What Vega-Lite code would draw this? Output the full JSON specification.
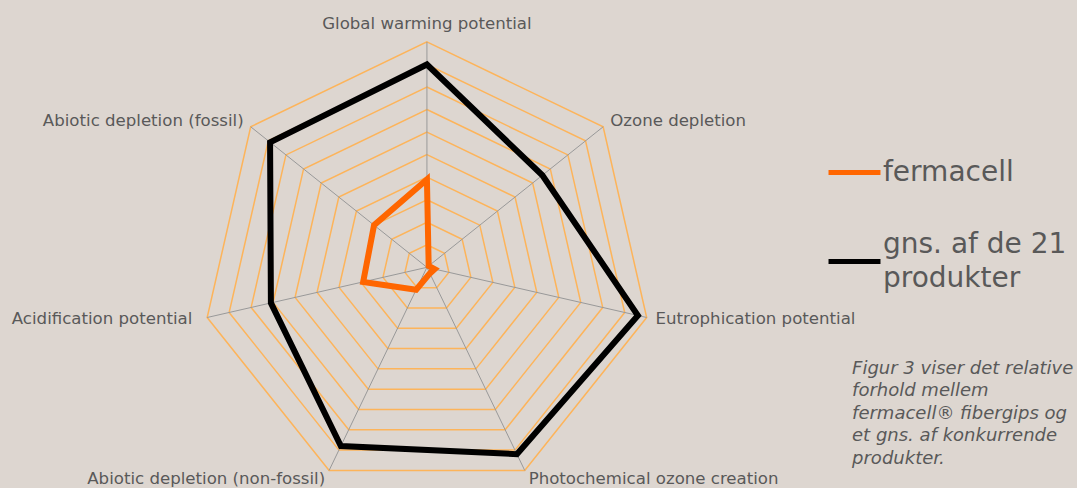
{
  "$schema": "https://vega.github.io/schema/vega-lite/v6.json",
  "width": 1077,
  "height": 488,
  "autosize": {"type": "none"},
  "padding": 0,
  "background": "#ddd6d0",
  "config": {
    "view": {"stroke": null},
    "font": "DejaVu Sans",
    "style": {"guide-label": {"lineHeight": 34}}
  },
  "resolve": {"scale": {"color": "independent"}, "legend": {"color": "independent"}},
  "datasets": {
    "axes": [
      {"axis": "Global warming potential", "k": 0, "levels": [0.1, 0.2, 0.3, 0.4, 0.5, 0.6, 0.7, 0.8, 0.9, 1.0]},
      {"axis": "Ozone depletion", "k": 1, "levels": [0.1, 0.2, 0.3, 0.4, 0.5, 0.6, 0.7, 0.8, 0.9, 1.0]},
      {"axis": "Eutrophication potential", "k": 2, "levels": [0.1, 0.2, 0.3, 0.4, 0.5, 0.6, 0.7, 0.8, 0.9, 1.0]},
      {"axis": "Photochemical ozone creation", "k": 3, "levels": [0.1, 0.2, 0.3, 0.4, 0.5, 0.6, 0.7, 0.8, 0.9, 1.0]},
      {"axis": "Abiotic depletion (non-fossil)", "k": 4, "levels": [0.1, 0.2, 0.3, 0.4, 0.5, 0.6, 0.7, 0.8, 0.9, 1.0]},
      {"axis": "Acidification potential", "k": 5, "levels": [0.1, 0.2, 0.3, 0.4, 0.5, 0.6, 0.7, 0.8, 0.9, 1.0]},
      {"axis": "Abiotic depletion (fossil)", "k": 6, "levels": [0.1, 0.2, 0.3, 0.4, 0.5, 0.6, 0.7, 0.8, 0.9, 1.0]}
    ],
    "scores": [
      {"series": "fermacell", "axis": "Global warming potential", "value": 0.39},
      {"series": "fermacell", "axis": "Ozone depletion", "value": 0.01},
      {"series": "fermacell", "axis": "Eutrophication potential", "value": 0.035},
      {"series": "fermacell", "axis": "Photochemical ozone creation", "value": 0.03},
      {"series": "fermacell", "axis": "Abiotic depletion (non-fossil)", "value": 0.11},
      {"series": "fermacell", "axis": "Acidification potential", "value": 0.29},
      {"series": "fermacell", "axis": "Abiotic depletion (fossil)", "value": 0.30},
      {"series": "gns. af de 21 produkter", "axis": "Global warming potential", "value": 0.90},
      {"series": "gns. af de 21 produkter", "axis": "Ozone depletion", "value": 0.655},
      {"series": "gns. af de 21 produkter", "axis": "Eutrophication potential", "value": 0.96},
      {"series": "gns. af de 21 produkter", "axis": "Photochemical ozone creation", "value": 0.92},
      {"series": "gns. af de 21 produkter", "axis": "Abiotic depletion (non-fossil)", "value": 0.88},
      {"series": "gns. af de 21 produkter", "axis": "Acidification potential", "value": 0.71},
      {"series": "gns. af de 21 produkter", "axis": "Abiotic depletion (fossil)", "value": 0.89}
    ],
    "caption": [
      {"text": ["Figur 3 viser det relative", "forhold mellem", "fermacell® fibergips og", "et gns. af konkurrende", "produkter."]}
    ]
  },
  "layer": [
    {
      "data": {"name": "axes"},
      "transform": [
        {"flatten": ["levels"], "as": ["level"]},
        {"calculate": "datum.k * 2 * PI / 7", "as": "a"},
        {"calculate": "datum.level * sin(datum.a)", "as": "px"},
        {"calculate": "datum.level * cos(datum.a)", "as": "py"}
      ],
      "mark": {"type": "line", "interpolate": "linear-closed", "stroke": "#fdb45a", "strokeWidth": 1.5},
      "encoding": {
        "x": {"field": "px", "type": "quantitative", "scale": {"domain": [-1.894, 2.884], "nice": false, "zero": false}, "axis": null},
        "y": {"field": "py", "type": "quantitative", "scale": {"domain": [-0.979, 1.186], "nice": false, "zero": false}, "axis": null},
        "detail": {"field": "level", "type": "nominal"},
        "order": {"field": "k", "type": "quantitative"}
      }
    },
    {
      "data": {"name": "axes"},
      "transform": [
        {"calculate": "datum.k * 2 * PI / 7", "as": "a"},
        {"calculate": "sin(datum.a)", "as": "px"},
        {"calculate": "cos(datum.a)", "as": "py"}
      ],
      "mark": {"type": "rule", "stroke": "#999999", "strokeWidth": 1},
      "encoding": {
        "x": {"field": "px", "type": "quantitative"},
        "y": {"field": "py", "type": "quantitative"},
        "x2": {"datum": 0},
        "y2": {"datum": 0}
      }
    },
    {
      "data": {"name": "scores"},
      "transform": [
        {"filter": "datum.series == 'fermacell'"},
        {"lookup": "axis", "from": {"data": {"name": "axes"}, "key": "axis", "fields": ["k"]}},
        {"calculate": "datum.k * 2 * PI / 7", "as": "a"},
        {"calculate": "datum.value * sin(datum.a)", "as": "px"},
        {"calculate": "datum.value * cos(datum.a)", "as": "py"}
      ],
      "mark": {"type": "line", "interpolate": "linear-closed", "strokeWidth": 6, "strokeJoin": "miter"},
      "encoding": {
        "x": {"field": "px", "type": "quantitative"},
        "y": {"field": "py", "type": "quantitative"},
        "order": {"field": "k", "type": "quantitative"},
        "color": {
          "field": "series",
          "type": "nominal",
          "scale": {"domain": ["fermacell"], "range": ["#ff6600"]},
          "legend": {
            "title": null,
            "orient": "none",
            "legendX": 826,
            "legendY": 144,
            "padding": 0,
            "symbolType": "stroke",
            "symbolSize": 2700,
            "symbolStrokeWidth": 5,
            "labelFontSize": 28,
            "labelFont": "DejaVu Sans",
            "labelColor": "#595959",
            "labelLimit": 0,
            "labelOffset": 0
          }
        }
      }
    },
    {
      "data": {"name": "scores"},
      "transform": [
        {"filter": "datum.series == 'gns. af de 21 produkter'"},
        {"lookup": "axis", "from": {"data": {"name": "axes"}, "key": "axis", "fields": ["k"]}},
        {"calculate": "datum.k * 2 * PI / 7", "as": "a"},
        {"calculate": "datum.value * sin(datum.a)", "as": "px"},
        {"calculate": "datum.value * cos(datum.a)", "as": "py"}
      ],
      "mark": {"type": "line", "interpolate": "linear-closed", "strokeWidth": 6, "strokeJoin": "miter"},
      "encoding": {
        "x": {"field": "px", "type": "quantitative"},
        "y": {"field": "py", "type": "quantitative"},
        "order": {"field": "k", "type": "quantitative"},
        "color": {
          "field": "series",
          "type": "nominal",
          "scale": {"domain": ["gns. af de 21 produkter"], "range": ["#000000"]},
          "legend": {
            "title": null,
            "orient": "none",
            "legendX": 826,
            "legendY": 233,
            "padding": 0,
            "symbolType": "stroke",
            "symbolSize": 2700,
            "symbolStrokeWidth": 5,
            "labelFontSize": 28,
            "labelFont": "DejaVu Sans",
            "labelColor": "#595959",
            "labelLimit": 0,
            "labelOffset": 0,
            "labelBaseline": "line-bottom",
            "labelExpr": "['gns. af de 21', 'produkter']"
          }
        }
      }
    },
    {
      "data": {"name": "axes"},
      "transform": [
        {"calculate": "datum.k * 2 * PI / 7", "as": "a"},
        {"calculate": "1.04 * sin(datum.a)", "as": "px"},
        {"calculate": "1.04 * cos(datum.a)", "as": "py"},
        {"filter": "sin(datum.a) > 0.1"}
      ],
      "mark": {"type": "text", "align": "left", "baseline": "middle", "fontSize": 16.6, "fill": "#595959", "font": "DejaVu Sans"},
      "encoding": {
        "x": {"field": "px", "type": "quantitative"},
        "y": {"field": "py", "type": "quantitative"},
        "text": {"field": "axis", "type": "nominal"}
      }
    },
    {
      "data": {"name": "axes"},
      "transform": [
        {"calculate": "datum.k * 2 * PI / 7", "as": "a"},
        {"calculate": "1.04 * sin(datum.a)", "as": "px"},
        {"calculate": "1.04 * cos(datum.a)", "as": "py"},
        {"filter": "sin(datum.a) < -0.1 && datum.k != 5"}
      ],
      "mark": {"type": "text", "align": "right", "baseline": "middle", "fontSize": 16.6, "fill": "#595959", "font": "DejaVu Sans"},
      "encoding": {
        "x": {"field": "px", "type": "quantitative"},
        "y": {"field": "py", "type": "quantitative"},
        "text": {"field": "axis", "type": "nominal"}
      }
    },
    {
      "data": {"name": "axes"},
      "transform": [
        {"calculate": "datum.k * 2 * PI / 7", "as": "a"},
        {"calculate": "1.04 * sin(datum.a)", "as": "px"},
        {"calculate": "1.04 * cos(datum.a)", "as": "py"},
        {"filter": "datum.k == 5"}
      ],
      "mark": {"type": "text", "align": "right", "baseline": "middle", "dx": -6, "fontSize": 16.6, "fill": "#595959", "font": "DejaVu Sans"},
      "encoding": {
        "x": {"field": "px", "type": "quantitative"},
        "y": {"field": "py", "type": "quantitative"},
        "text": {"field": "axis", "type": "nominal"}
      }
    },
    {
      "data": {"name": "axes"},
      "transform": [
        {"calculate": "datum.k * 2 * PI / 7", "as": "a"},
        {"calculate": "sin(datum.a)", "as": "px"},
        {"calculate": "cos(datum.a)", "as": "py"},
        {"filter": "abs(sin(datum.a)) <= 0.1"}
      ],
      "mark": {"type": "text", "align": "center", "baseline": "bottom", "dy": -10, "fontSize": 16.6, "fill": "#595959", "font": "DejaVu Sans"},
      "encoding": {
        "x": {"field": "px", "type": "quantitative"},
        "y": {"field": "py", "type": "quantitative"},
        "text": {"field": "axis", "type": "nominal"}
      }
    },
    {
      "data": {"name": "caption"},
      "mark": {"type": "text", "align": "left", "baseline": "top", "fontSize": 18, "fontStyle": "italic", "lineHeight": 22.5, "fill": "#595959", "font": "DejaVu Sans"},
      "encoding": {
        "x": {"datum": 1.886, "type": "quantitative"},
        "y": {"datum": -0.41, "type": "quantitative"},
        "text": {"field": "text"}
      }
    }
  ]
}
